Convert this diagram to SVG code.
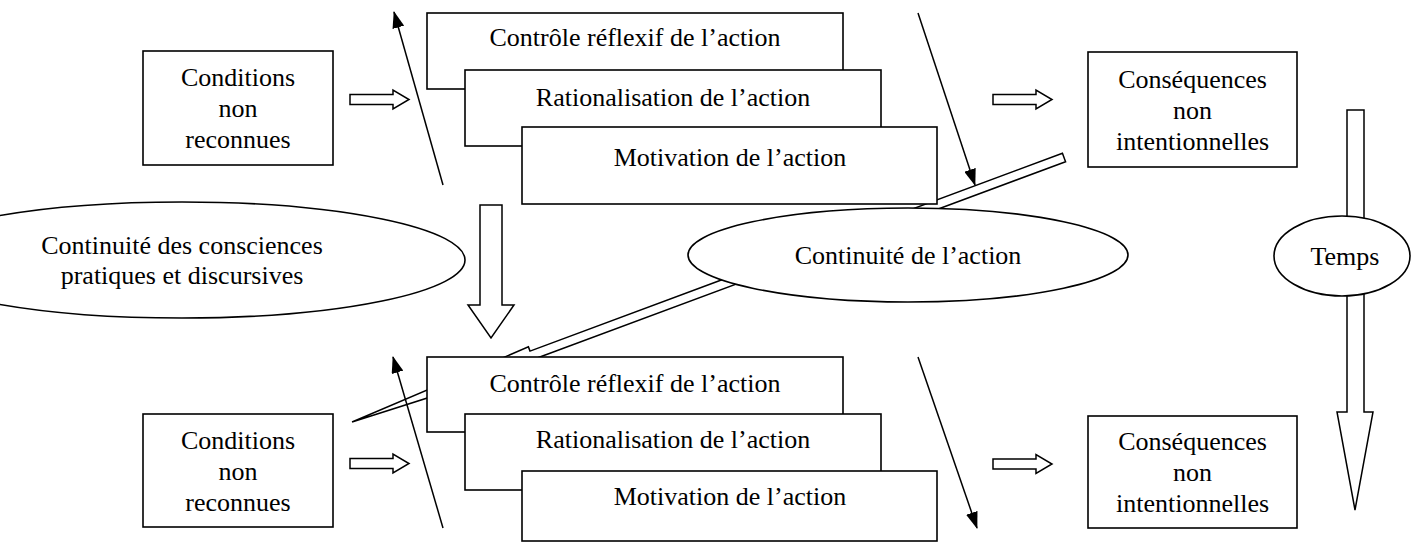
<svg xmlns="http://www.w3.org/2000/svg" xmlns:xlink="http://www.w3.org/1999/xlink" width="1413" height="546" viewBox="0 0 1413 546">
<style>
  .box { fill: #ffffff; stroke: #000000; stroke-width: 1.6; }
  .ell { fill: #ffffff; stroke: #000000; stroke-width: 1.6; }
  .hollow { fill: #ffffff; stroke: #000000; stroke-width: 1.5; stroke-linejoin: miter; }
  .thin { fill: none; stroke: #000000; stroke-width: 1.5; marker-end: url(#head); }
  text { font-family: "Liberation Serif", "Times New Roman", serif; font-size: 26px; fill: #000000; text-anchor: middle; }
</style>
<defs>
  <marker id="head" viewBox="0 0 17 12" refX="16" refY="6" markerWidth="17" markerHeight="12" markerUnits="userSpaceOnUse" orient="auto">
    <path d="M0,0 L17,6 L0,12 Z" fill="#000000"/>
  </marker>
  <path id="harrow" d="M0,-5 H43 V-9.5 L59,0 L43,9.5 V5 H0 Z"/>
</defs>
<rect width="1413" height="546" fill="#ffffff"/>

<g id="connectors">
  <!-- long thin arrow: continuity of action -->
  <g transform="translate(1064,157.5) rotate(159.62)">
    <path class="hollow" d="M0,-4.5 L568,-4.5 L568,-9 L759.5,0 L568,9 L568,4.5 L0,4.5 Z"/>
  </g>
  <!-- Temps arrow -->
  <path class="hollow" d="M1347,110 H1364 V412 H1373 L1355,510 L1337,412 H1347 Z"/>
  <!-- middle big hollow down arrow -->
  <path class="hollow" d="M480,205 H502 V305 H514 L491,338 L468,305 H480 Z"/>
  <!-- small hollow right arrows -->
  <use xlink:href="#harrow" href="#harrow" class="hollow" x="350" y="99.5"/>
  <use xlink:href="#harrow" href="#harrow" class="hollow" x="993" y="99.5"/>
  <use xlink:href="#harrow" href="#harrow" class="hollow" x="350" y="463.5"/>
  <use xlink:href="#harrow" href="#harrow" class="hollow" x="993" y="464"/>
  <!-- thin arrows -->
  <line class="thin" x1="443" y1="185" x2="394" y2="12"/>
  <line class="thin" x1="918" y1="13" x2="975" y2="185"/>
  <line class="thin" x1="443" y1="528" x2="393" y2="357"/>
  <line class="thin" x1="918" y1="357" x2="977" y2="528"/>
</g>

<g id="cond-top">
  <rect class="box" x="143" y="51" width="190" height="114"/>
  <text x="238" y="86">Conditions</text>
  <text x="238" y="117">non</text>
  <text x="238" y="148">reconnues</text>
</g>

<g id="stack-top">
  <g id="controle-top">
    <rect class="box" x="427" y="13" width="416" height="76"/>
    <text x="635" y="46">Contrôle réflexif de l’action</text>
  </g>
  <g id="rational-top">
    <rect class="box" x="465" y="70" width="416" height="76"/>
    <text x="673" y="106">Rationalisation de l’action</text>
  </g>
  <g id="motiv-top">
    <rect class="box" x="522" y="127" width="415" height="77"/>
    <text x="730" y="166">Motivation de l’action</text>
  </g>
</g>

<g id="cons-top">
  <rect class="box" x="1088" y="52" width="209" height="115"/>
  <text x="1192.5" y="87.5">Conséquences</text>
  <text x="1192.5" y="118.5">non</text>
  <text x="1192.5" y="149.5">intentionnelles</text>
</g>

<g id="ell-consciences">
  <ellipse class="ell" cx="182" cy="260" rx="283" ry="58"/>
  <text x="182" y="254">Continuité des consciences</text>
  <text x="182" y="284">pratiques et discursives</text>
</g>

<g id="ell-action">
  <ellipse class="ell" cx="908" cy="255" rx="220" ry="47"/>
  <text x="908" y="264">Continuité de l’action</text>
</g>

<g id="ell-temps">
  <ellipse class="ell" cx="1342" cy="256" rx="68" ry="40"/>
  <text x="1345" y="265">Temps</text>
</g>

<g id="cond-bottom">
  <rect class="box" x="143" y="414" width="190" height="113"/>
  <text x="238" y="449">Conditions</text>
  <text x="238" y="480">non</text>
  <text x="238" y="511">reconnues</text>
</g>

<g id="stack-bottom">
  <g id="controle-bottom">
    <rect class="box" x="427" y="357" width="416" height="75"/>
    <text x="635" y="392">Contrôle réflexif de l’action</text>
  </g>
  <g id="rational-bottom">
    <rect class="box" x="465" y="414" width="416" height="76"/>
    <text x="673" y="448">Rationalisation de l’action</text>
  </g>
  <g id="motiv-bottom">
    <rect class="box" x="522" y="471" width="415" height="70"/>
    <text x="730" y="505">Motivation de l’action</text>
  </g>
</g>

<g id="cons-bottom">
  <rect class="box" x="1088" y="416" width="209" height="112"/>
  <text x="1192.5" y="450">Conséquences</text>
  <text x="1192.5" y="481">non</text>
  <text x="1192.5" y="512">intentionnelles</text>
</g>
</svg>
